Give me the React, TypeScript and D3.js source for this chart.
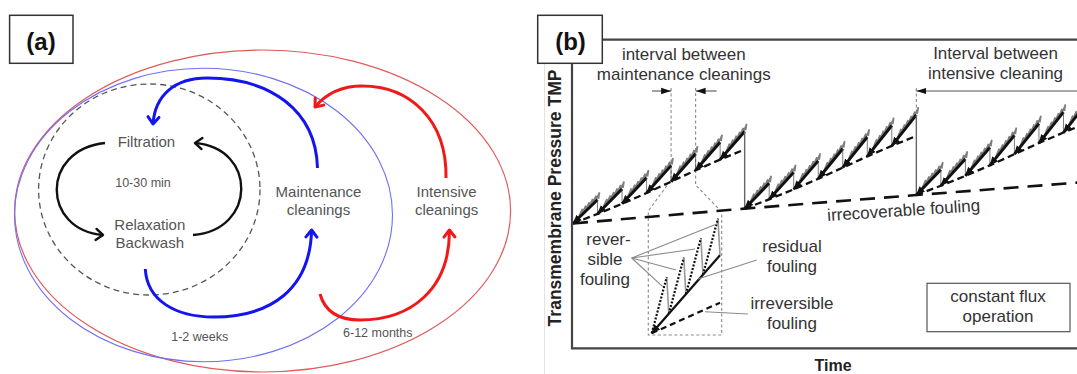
import React, { useEffect, useRef } from 'react';
import * as d3 from 'd3';

// ---- panel (b) data: time in intensive-cleaning periods, TMP in arbitrary units ----
const intensiveCycles = [0, 1, 2];
const cycleTimes = [0, 1, 2, 3];
const irrecoverable = [40.5, 45.3, 49.7, 54];
// residual (maintenance) fouling above irrecoverable at each maintenance cleaning
const residualRise = [0, 2.4, 5.0, 7.8, 10.8, 13.8, 16.6, 19.2];
// height of the filtration sawtooth above the residual line, per maintenance cycle
const maintenancePeak = [
    [4.6, 4.8, 5.0, 5.2, 5.4, 5.6, 5.8],
    [5.2, 5.5, 5.8, 6.1, 6.3, 6.6, 6.8],
    [5.2, 5.5, 5.8, 6.1, 6.3, 6.6, 6.8],
];

// inset (zoom on one maintenance cycle)
const insetResidual = [0, 78];
const insetIrreversible = [0, 30.6];
const insetReversible = [39, 39, 39, 39];

const font = "'Liberation Sans', Arial, Helvetica, sans-serif";

// ---- panel (a) layout ----
const labelsA = [
    { t: 'Filtration', x: 146.4, y: 147, s: 15 },
    { t: '10-30 min', x: 143, y: 187, s: 12.5 },
    { t: 'Relaxation', x: 149.8, y: 230, s: 15 },
    { t: 'Backwash', x: 149.8, y: 248, s: 15 },
    { t: 'Maintenance', x: 318.5, y: 197, s: 15 },
    { t: 'cleanings', x: 318.5, y: 215, s: 15 },
    { t: 'Intensive', x: 446.6, y: 197, s: 15 },
    { t: 'cleanings', x: 446.6, y: 215, s: 15 },
    { t: '1-2 weeks', x: 199.7, y: 341, s: 12.5 },
    { t: '6-12 months', x: 377.8, y: 337, s: 12.5 },
];

const arcsA = [
    { d: 'M105,143 C40,150 42,230 103,235', c: '#111111', w: 2.4 },
    { d: 'M193,235 C257,230 257,148 195,143', c: '#111111', w: 2.4 },
    { d: 'M317.5,168 C316,110 270,78 207,78 C175,78 155,95 153,124', c: '#1414f0', w: 3 },
    { d: 'M145.3,269 C147,300 175,317 213.5,317 C270,317 310,290 311.6,230', c: '#1414f0', w: 3 },
    { d: 'M446,178 C447,120 410,86 362,86 C340,86 325,95 315,107', c: '#f01818', w: 3 },
    { d: 'M320,294 C325,312 340,320 360,320 C410,320 450,290 449.4,230', c: '#f01818', w: 3 },
];

export default function App() {
    const ref = useRef<SVGSVGElement>(null);

    useEffect(() => {
        const svg = d3.select(ref.current);
        svg.selectAll('*').remove();

        const defs = svg.append('defs');
        // open chevron heads for panel (a)
        arcsA.forEach((a, i) => {
            defs.append('marker')
                .attr('id', 'chev' + i)
                .attr('viewBox', '-3 -8 12 16')
                .attr('refX', 7).attr('refY', 0)
                .attr('markerWidth', 12).attr('markerHeight', 16)
                .attr('markerUnits', 'userSpaceOnUse')
                .attr('orient', 'auto')
                .append('path')
                .attr('d', 'M0,-5.5 L7,0 L0,5.5')
                .attr('fill', 'none')
                .attr('stroke', a.c)
                .attr('stroke-width', a.w)
                .attr('stroke-linecap', 'round')
                .attr('stroke-linejoin', 'round');
        });
        defs.append('marker')
            .attr('id', 'tip')
            .attr('viewBox', '0 -5 10 10')
            .attr('refX', 9.5).attr('refY', 0)
            .attr('markerWidth', 9).attr('markerHeight', 9)
            .attr('markerUnits', 'userSpaceOnUse')
            .attr('orient', 'auto-start-reverse')
            .append('path').attr('d', 'M0,-4.2 L10,0 L0,4.2 Z').attr('fill', '#111');
        defs.append('marker')
            .attr('id', 'head')
            .attr('viewBox', '0 -4 10 8')
            .attr('refX', 10).attr('refY', 0)
            .attr('markerWidth', 10).attr('markerHeight', 8)
            .attr('markerUnits', 'userSpaceOnUse')
            .attr('orient', 'auto')
            .append('path').attr('d', 'M0,-3.2 L10,0 L0,3.2 Z').attr('fill', '#111');

        // ================= panel (a) =================
        const ga = svg.append('g');
        ga.append('ellipse').attr('cx', 262.6).attr('cy', 211).attr('rx', 248).attr('ry', 161)
            .attr('fill', 'none').attr('stroke', '#e05a5a').attr('stroke-width', 1.2);
        ga.append('ellipse').attr('cx', 203.5).attr('cy', 215).attr('rx', 189).attr('ry', 146.7)
            .attr('fill', 'none').attr('stroke', '#7070f5').attr('stroke-width', 1.1);
        ga.append('ellipse').attr('cx', 149.3).attr('cy', 189.5).attr('rx', 110.7).attr('ry', 105.5)
            .attr('fill', 'none').attr('stroke', '#555').attr('stroke-width', 1.3)
            .attr('stroke-dasharray', '6,4');

        arcsA.forEach((a, i) => {
            ga.append('path').attr('d', a.d)
                .attr('fill', 'none').attr('stroke', a.c).attr('stroke-width', a.w)
                .attr('marker-end', 'url(#chev' + i + ')');
        });

        ga.selectAll('text.la').data(labelsA).enter().append('text')
            .attr('x', d => d.x).attr('y', d => d.y)
            .attr('text-anchor', 'middle')
            .attr('font-family', font).attr('font-size', d => d.s)
            .attr('fill', '#555')
            .text(d => d.t);

        ga.append('rect').attr('x', 9.6).attr('y', 15.3).attr('width', 63.4).attr('height', 48)
            .attr('fill', '#fff').attr('stroke', '#333').attr('stroke-width', 1.5);
        ga.append('text').attr('x', 41).attr('y', 50).attr('text-anchor', 'middle')
            .attr('font-family', font).attr('font-weight', 'bold').attr('font-size', 24)
            .attr('fill', '#111').text('(a)');

        // ================= panel (b) =================
        const gb = svg.append('g');
        const x = d3.scaleLinear().domain([0, 3]).range([573, 1088]);
        const y = d3.scaleLinear().domain([0, 100]).range([348.3, 40]);
        const base = d3.scaleLinear().domain(cycleTimes).range(irrecoverable);
        const line = d3.line<[number, number]>().x(d => x(d[0])).y(d => y(d[1]));

        gb.append('line').attr('x1', 544.5).attr('x2', 544.5).attr('y1', 64).attr('y2', 374)
            .attr('stroke', '#e2e2e2').attr('stroke-width', 1);

        // dotted zoom outline & interval guides
        const ix = d3.scaleLinear().domain([0, 4]).range([651.7, 720]);
        const iy = d3.scaleLinear().domain([0, 115]).range([333.3, 218.3]);
        const zl = x(4 / 7), zr = x(5 / 7);
        gb.append('path')
            .attr('d', `M${zl},88 V180 L${ix(-0.2)},211 V335 H${ix(4.1)} V212 L${zr},185 V88`)
            .attr('fill', 'none').attr('stroke', '#8a8a8a').attr('stroke-width', 1.1)
            .attr('stroke-dasharray', '3,2.5');
        gb.append('line').attr('x1', x(2)).attr('x2', x(2)).attr('y1', 88)
            .attr('y2', y(base(2) + residualRise[7] + maintenancePeak[1][6]))
            .attr('stroke', '#8a8a8a').attr('stroke-width', 1.1).attr('stroke-dasharray', '3,2.5');

        const arrows = [[zl - 19, zl], [zr + 21, zr], [1077, x(2)]];
        arrows.forEach(a => {
            gb.append('line').attr('x1', a[0]).attr('x2', a[1]).attr('y1', 91).attr('y2', 91)
                .attr('stroke', '#555').attr('stroke-width', 1.1).attr('marker-end', 'url(#head)');
        });

        // irrecoverable fouling
        gb.append('path')
            .attr('d', line(cycleTimes.map(t => [t, base(t)] as [number, number])))
            .attr('fill', 'none').attr('stroke', '#111').attr('stroke-width', 2.6)
            .attr('stroke-dasharray', '15,9');

        intensiveCycles.forEach(c => {
            const pts = residualRise.map((r, j) => [c + j / 7, base(c + j / 7) + r] as [number, number]);
            gb.append('path').attr('d', line(pts))
                .attr('fill', 'none').attr('stroke', '#111').attr('stroke-width', 2.3)
                .attr('stroke-dasharray', '7,4');

            maintenancePeak[c].forEach((h, j) => {
                const t0 = c + j / 7, t1 = c + (j + 1) / 7;
                const r0 = base(t0) + residualRise[j];
                const r1 = base(t1) + residualRise[j + 1];
                const p0: [number, number] = [x(t0), y(r0)];
                const p1: [number, number] = [x(t1), y(r1 + h)];
                const at = (f: number) => [p0[0] + f * (p1[0] - p0[0]), p0[1] + f * (p1[1] - p0[1])];

                // filtration / backwash teeth
                const fr = [0.2, 0.34, 0.48, 0.62, 0.76, 0.9, 1.04];
                let d = 'M' + at(fr[0]).join(',');
                for (let k = 1; k < fr.length; k++) {
                    const q = at(fr[k]);
                    d += ` L${q[0] + 1},${q[1] - 6.5} L${q[0]},${q[1]}`;
                }
                gb.append('path').attr('d', d).attr('fill', 'none')
                    .attr('stroke', '#7e7e7e').attr('stroke-width', 1.6);

                gb.append('line')
                    .attr('x1', p0[0]).attr('y1', p0[1]).attr('x2', p1[0]).attr('y2', p1[1])
                    .attr('stroke', '#111').attr('stroke-width', 2.9)
                    .attr('marker-start', 'url(#tip)');

                if (j < maintenancePeak[c].length - 1) {
                    gb.append('line').attr('x1', p1[0]).attr('x2', p1[0])
                        .attr('y1', p1[1]).attr('y2', y(r1))
                        .attr('stroke', '#444').attr('stroke-width', 0.7);
                } else {
                    gb.append('line').attr('x1', p1[0]).attr('x2', p1[0])
                        .attr('y1', p1[1]).attr('y2', y(base(c + 1)))
                        .attr('stroke', '#666').attr('stroke-width', 1.4);
                }
            });
        });

        // inset
        const resI = d3.scaleLinear().domain([0, 4]).range(insetResidual);
        const irrI = d3.scaleLinear().domain([0, 4]).range(insetIrreversible);
        const lineI = d3.line<[number, number]>().x(d => ix(d[0])).y(d => iy(d[1]));
        gb.append('path').attr('d', lineI([[0, irrI(0)], [4, irrI(4)]]))
            .attr('stroke', '#111').attr('stroke-width', 2.2).attr('stroke-dasharray', '6,4');
        insetReversible.forEach((h, k) => {
            const tp = k + 0.88;
            gb.append('path').attr('d', lineI([[tp, resI(tp) + h], [k + 1, resI(k + 1)]]))
                .attr('fill', 'none').attr('stroke', '#9a9a9a').attr('stroke-width', 1.6);
            gb.append('path').attr('d', lineI([[k, resI(k)], [tp, resI(tp) + h]]))
                .attr('fill', 'none').attr('stroke', '#111').attr('stroke-width', 2.2)
                .attr('stroke-dasharray', '2,1.6');
        });
        gb.append('path').attr('d', lineI([[0, resI(0)], [4, resI(4)]]))
            .attr('stroke', '#111').attr('stroke-width', 2.2).attr('marker-start', 'url(#tip)');

        // callouts
        const callouts = [
            [631.7, 258, 662.7, 286.7], [631.7, 258, 676, 270], [631.7, 258, 695, 249], [631.7, 258, 718, 223.5],
            [756.7, 260, 698, 279], [748, 314, 705, 311.7],
        ];
        callouts.forEach(l => {
            gb.append('line').attr('x1', l[0]).attr('y1', l[1]).attr('x2', l[2]).attr('y2', l[3])
                .attr('stroke', '#8a8a8a').attr('stroke-width', 1.1);
        });

        // frame
        gb.append('path').attr('d', 'M602,39.6 H1077 M572,63 V348.3 H1077')
            .attr('fill', 'none').attr('stroke', '#444').attr('stroke-width', 2.2);

        const labelsB = [
            { t: 'interval between', x: 683.8, y: 60 },
            { t: 'maintenance cleanings', x: 683.8, y: 80 },
            { t: 'Interval between', x: 995.5, y: 59 },
            { t: 'intensive cleaning', x: 995.5, y: 79 },
            { t: 'rever-', x: 608.5, y: 245 },
            { t: 'sible', x: 605, y: 265 },
            { t: 'fouling', x: 605, y: 285 },
            { t: 'residual', x: 792, y: 252 },
            { t: 'fouling', x: 792, y: 272 },
            { t: 'irreversible', x: 792, y: 309 },
            { t: 'fouling', x: 792, y: 329 },
            { t: 'constant flux', x: 998, y: 302 },
            { t: 'operation', x: 998, y: 322 },
        ];
        gb.selectAll('text.lb').data(labelsB).enter().append('text')
            .attr('x', d => d.x).attr('y', d => d.y).attr('text-anchor', 'middle')
            .attr('font-family', font).attr('font-size', 17).attr('fill', '#333')
            .text(d => d.t);
        gb.append('text').attr('transform', 'translate(904,216) rotate(-3.8)')
            .attr('text-anchor', 'middle').attr('font-family', font).attr('font-size', 17)
            .attr('fill', '#333').text('irrecoverable fouling');

        gb.append('rect').attr('x', 927).attr('y', 283.3).attr('width', 143).attr('height', 48.4)
            .attr('fill', 'none').attr('stroke', '#555').attr('stroke-width', 1.2);

        gb.append('text').attr('transform', 'translate(561,198) rotate(-90)')
            .attr('text-anchor', 'middle').attr('font-family', font).attr('font-weight', 'bold')
            .attr('font-size', 17.5).attr('fill', '#222').text('Transmembrane Pressure TMP');
        gb.append('text').attr('x', 833).attr('y', 371).attr('text-anchor', 'middle')
            .attr('font-family', font).attr('font-weight', 'bold').attr('font-size', 16)
            .attr('fill', '#222').text('Time');

        gb.append('rect').attr('x', 537.7).attr('y', 15.3).attr('width', 64.6).attr('height', 48)
            .attr('fill', '#fff').attr('stroke', '#333').attr('stroke-width', 1.5);
        gb.append('text').attr('x', 570.5).attr('y', 50).attr('text-anchor', 'middle')
            .attr('font-family', font).attr('font-weight', 'bold').attr('font-size', 24)
            .attr('fill', '#111').text('(b)');
    }, []);

    return (
        <svg ref={ref} width={1077} height={374}
            style={{ position: 'absolute', left: 0, top: 0, background: '#fff' }} />
    );
}
